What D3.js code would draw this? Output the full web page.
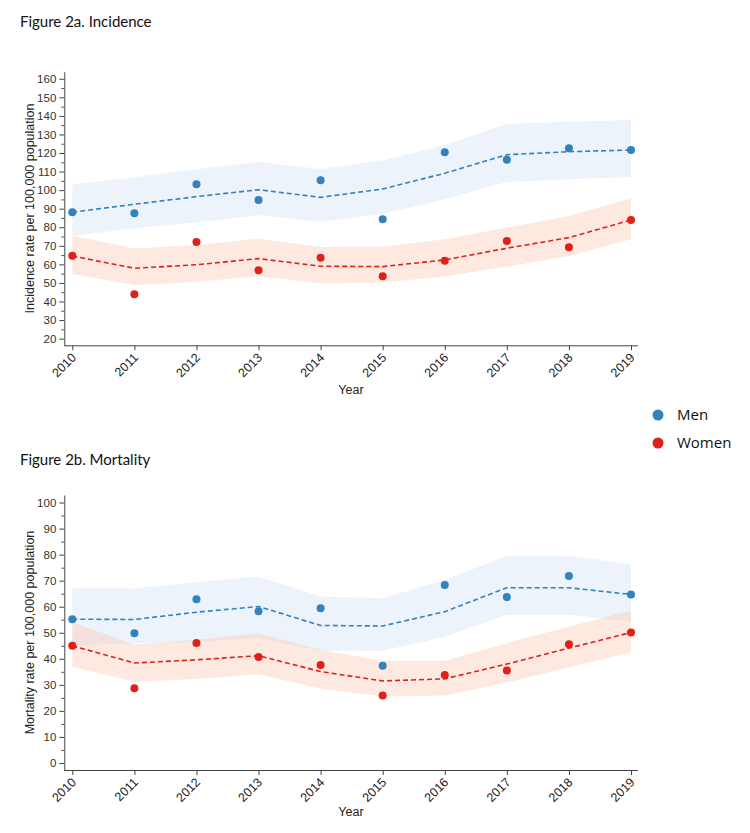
<!DOCTYPE html>
<html>
<head>
<meta charset="utf-8">
<script src="https://cdn.jsdelivr.net/npm/d3@7/dist/d3.min.js"></script>
<style>
  body { margin: 0; background: #fff; }
  .title { font-family: Lato, "Open Sans", sans-serif; font-size: 15px; fill: #111; }
  .legend text { font-family: "Open Sans", Lato, sans-serif; font-size: 15px; fill: #111; }
</style>
</head>
<body>
<div class="viz"></div>
<script>
var years = [2010, 2011, 2012, 2013, 2014, 2015, 2016, 2017, 2018, 2019];

// Figure 2a. Incidence
var incMenRate   = [88.1, 87.5, 103.1, 94.7, 105.3, 84.3, 120.4, 116.4, 122.5, 121.6];
var incMenFit    = [88.1, 92.4, 96.5, 100.2, 96.1, 100.6, 109.1, 119.1, 120.7, 121.6];
var incMenLo     = [75.3, 79.4, 82.7, 86.4, 83.0, 87.2, 95.1, 104.5, 105.8, 107.1];
var incMenHi     = [103.1, 106.9, 111.2, 115.2, 111.4, 115.9, 124.3, 135.6, 136.9, 137.8];
var incWomenRate = [64.7, 43.9, 72.0, 56.8, 63.6, 53.6, 62.0, 72.6, 69.2, 83.9];
var incWomenFit  = [64.5, 57.9, 59.8, 63.1, 59.0, 58.8, 62.4, 68.7, 74.4, 83.9];
var incWomenLo   = [54.8, 48.9, 50.7, 53.6, 49.8, 50.2, 53.4, 58.8, 64.5, 73.5];
var incWomenHi   = [75.5, 68.5, 70.5, 73.8, 69.4, 69.5, 73.5, 79.8, 86.1, 95.6];
var incTicks     = [20, 30, 40, 50, 60, 70, 80, 90, 100, 110, 120, 130, 140, 150, 160];

// Figure 2b. Mortality
var morMenRate   = [55.2, 49.8, 62.9, 58.3, 59.4, 37.3, 68.3, 63.7, 71.8, 64.7];
var morMenFit    = [55.2, 55.1, 57.9, 60.1, 52.8, 52.6, 58.1, 67.3, 67.3, 64.7];
var morMenLo     = [45.0, 46.0, 46.5, 48.0, 43.1, 43.1, 48.5, 56.9, 56.9, 54.3];
var morMenHi     = [67.2, 67.0, 69.4, 71.6, 63.9, 63.3, 70.3, 79.5, 79.5, 76.4];
var morWomenRate = [45.0, 28.7, 46.1, 40.7, 37.6, 25.9, 33.8, 35.5, 45.6, 50.1];
var morWomenFit  = [45.0, 38.4, 39.6, 41.2, 35.1, 31.5, 32.3, 38.0, 44.1, 50.1];
var morWomenLo   = [37.0, 31.2, 32.2, 34.1, 28.5, 25.5, 25.9, 30.9, 36.8, 42.4];
var morWomenHi   = [54.0, 45.5, 47.3, 49.8, 43.4, 39.3, 39.3, 46.0, 52.4, 58.5];
var morTicks     = [0, 10, 20, 30, 40, 50, 60, 70, 80, 90, 100];

var groups = ["Men", "Women"];
var groupColors = ["#3182bd", "#e0201b"];
var bandColors = ["#c6dbef", "#fcbba1"];

var width = 750, height = 833,
    axisFont = "'Liberation Sans', Arial, sans-serif";

var svg = d3.select(".viz").append("svg")
    .attr("width", width)
    .attr("height", height);

function drawPanel(opts) {
  var g = svg.append("g");

  g.append("text")
      .attr("class", "title")
      .attr("x", 20)
      .attr("y", opts.titleY)
      .text(opts.title);

  var x = d3.scaleLinear()
      .domain([2010, 2019])
      .range([72.3, 631]);

  var y = d3.scaleLinear()
      .domain(opts.yDomain)
      .range([opts.bottom, opts.top]);

  var series = [
    {rate: opts.men, fit: opts.menFit, lo: opts.menLo, hi: opts.menHi},
    {rate: opts.women, fit: opts.womenFit, lo: opts.womenLo, hi: opts.womenHi}
  ];

  var area = d3.area()
      .x(function(d) { return x(d.year); })
      .y0(function(d) { return y(d.lo); })
      .y1(function(d) { return y(d.hi); });

  var line = d3.line()
      .x(function(d) { return x(d.year); })
      .y(function(d) { return y(d.fit); });

  series.forEach(function(s, i) {
    s.rows = years.map(function(yr, j) {
      return {year: yr, rate: s.rate[j], fit: s.fit[j], lo: s.lo[j], hi: s.hi[j]};
    });
    g.append("path")
        .datum(s.rows)
        .attr("d", area)
        .style("fill", bandColors[i])
        .style("fill-opacity", 0.32);
  });

  series.forEach(function(s, i) {
    g.append("path")
        .datum(s.rows)
        .attr("d", line)
        .style("fill", "none")
        .style("stroke", groupColors[i])
        .style("stroke-width", 1.6)
        .style("stroke-dasharray", "5,3");
  });

  series.forEach(function(s, i) {
    g.selectAll(null)
        .data(s.rows)
        .enter()
        .append("circle")
          .attr("cx", function(d) { return x(d.year); })
          .attr("cy", function(d) { return y(d.rate); })
          .attr("r", 4)
          .style("fill", groupColors[i]);
  });

  // minor ticks every 5
  var minor = [];
  for (var v = opts.yTicks[0]; v <= opts.yTicks[opts.yTicks.length - 1]; v += 5) {
    if (opts.yTicks.indexOf(v) < 0) minor.push(v);
  }
  var yMinor = g.append("g")
      .attr("transform", "translate(64.3,0)")
      .call(d3.axisLeft(y).tickValues(minor).tickSize(3).tickFormat(""));
  yMinor.select(".domain").remove();
  yMinor.selectAll("line").style("stroke", "#555");

  // axis() sets its own font attrs, so override after the call
  var yAxis = g.append("g")
      .attr("transform", "translate(64.3,0)")
      .call(d3.axisLeft(y).tickValues(opts.yTicks).tickSize(5).tickSizeOuter(0).tickPadding(3))
      .attr("font-family", axisFont)
      .attr("font-size", 11.5);
  yAxis.select(".domain").style("stroke", "#444");
  yAxis.selectAll(".tick line").style("stroke", "#444");
  yAxis.selectAll(".tick text").style("fill", "#333");

  var xAxis = g.append("g")
      .attr("transform", "translate(0," + opts.bottom + ")")
      .call(d3.axisBottom(x).tickValues(years).tickFormat(d3.format("d")).tickSize(5))
      .attr("font-family", axisFont)
      .attr("font-size", 12.5);
  xAxis.select(".domain").attr("d", "M64.3,0.5H638");
  xAxis.selectAll(".domain, .tick line").style("stroke", "#444");
  xAxis.selectAll(".tick text")
      .attr("text-anchor", "end")
      .attr("dy", null)
      .attr("y", 0)
      .attr("transform", "translate(4,13) rotate(-45)")
      .style("fill", "#222");

  g.append("text")
      .attr("text-anchor", "middle")
      .attr("font-family", axisFont)
      .attr("font-size", 12.5)
      .attr("fill", "#222")
      .attr("transform", "translate(34," + ((opts.top + opts.bottom) / 2) + ") rotate(-90)")
      .text(opts.yLabel);

  g.append("text")
      .attr("text-anchor", "middle")
      .attr("font-family", axisFont)
      .attr("font-size", 12.5)
      .attr("fill", "#222")
      .attr("x", 351)
      .attr("y", opts.yearY)
      .text("Year");
}

drawPanel({
  title: "Figure 2a. Incidence",
  titleY: 27,
  top: 71.7, bottom: 345.3,
  yearY: 394,
  yDomain: [16.4, 163.8],
  yTicks: incTicks,
  yLabel: "Incidence rate per 100,000 population",
  men: incMenRate, menFit: incMenFit, menLo: incMenLo, menHi: incMenHi,
  women: incWomenRate, womenFit: incWomenFit, womenLo: incWomenLo, womenHi: incWomenHi
});

drawPanel({
  title: "Figure 2b. Mortality",
  titleY: 465,
  top: 495, bottom: 770,
  yearY: 816,
  yDomain: [-2.7, 102.9],
  yTicks: morTicks,
  yLabel: "Mortality rate per 100,000 population",
  men: morMenRate, menFit: morMenFit, menLo: morMenLo, menHi: morMenHi,
  women: morWomenRate, womenFit: morWomenFit, womenLo: morWomenLo, womenHi: morWomenHi
});

// legend
var legend = svg.append("g").attr("class", "legend");
legend.selectAll("circle")
    .data(groups)
    .enter()
    .append("circle")
      .attr("cx", 658)
      .attr("cy", function(d, i) { return 415 + i * 28; })
      .attr("r", 5.5)
      .style("fill", function(d, i) { return groupColors[i]; });
legend.selectAll("text")
    .data(groups)
    .enter()
    .append("text")
      .attr("x", 677)
      .attr("y", function(d, i) { return 420 + i * 28; })
      .text(function(d) { return d; });
</script>
</body>
</html>
